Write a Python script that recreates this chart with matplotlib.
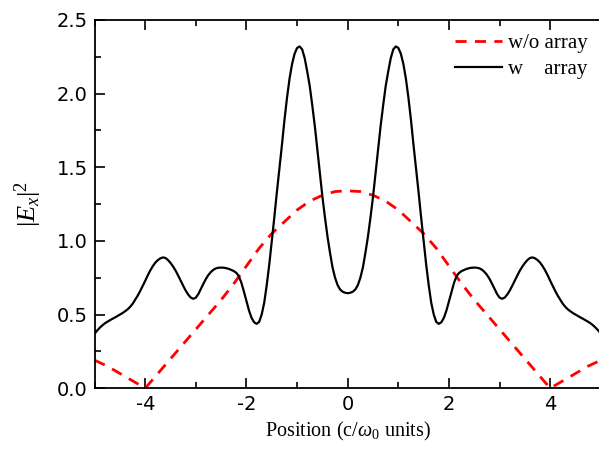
import numpy as np
import matplotlib
matplotlib.use("Agg")
from matplotlib import pyplot as plt

plt.rcParams['mathtext.fontset'] = 'custom'
plt.rcParams['mathtext.rm'] = 'Liberation Serif'
plt.rcParams['mathtext.it'] = 'Liberation Serif:italic'
plt.rcParams['axes.unicode_minus'] = False

# red dashed: without array (0.25 steps)
x_wo = [-5.0, -4.75, -4.5, -4.25, -4.0, -3.75, -3.5, -3.25, -3.0, -2.75, -2.5,
        -2.25, -2.0, -1.75, -1.5, -1.25, -1.0, -0.75, -0.5, -0.25, 0.0,
        0.25, 0.5, 0.75, 1.0, 1.25, 1.5, 1.75, 2.0, 2.25, 2.5,
        2.75, 3.0, 3.25, 3.5, 3.75, 4.0, 4.25, 4.5, 4.75, 5.0]
y_wo = [0.19, 0.15, 0.10, 0.05, 0.0, 0.10, 0.20, 0.30, 0.40, 0.50, 0.60,
        0.71, 0.83, 0.95, 1.05, 1.13, 1.21, 1.27, 1.31, 1.335, 1.34,
        1.335, 1.31, 1.27, 1.21, 1.13, 1.05, 0.95, 0.83, 0.71, 0.60,
        0.50, 0.40, 0.30, 0.20, 0.10, 0.0, 0.05, 0.10, 0.15, 0.19]

# black solid: with array (0.05 steps from -5 to 5)
x_w = np.round(np.linspace(-5.0, 5.0, 201), 2)
y_w = [
    # -5.00 .. -0.05
    0.370, 0.392, 0.410, 0.426, 0.440, 0.451, 0.461, 0.471, 0.480, 0.490,
    0.500, 0.510, 0.522, 0.535, 0.552, 0.573, 0.600, 0.628, 0.660, 0.695,
    0.730, 0.767, 0.800, 0.829, 0.853, 0.870, 0.882, 0.888, 0.884, 0.870,
    0.850, 0.826, 0.798, 0.765, 0.730, 0.695, 0.662, 0.635, 0.615, 0.607,
    0.615, 0.640, 0.675, 0.710, 0.743, 0.770, 0.790, 0.805, 0.814, 0.818,
    0.819, 0.818, 0.815, 0.810, 0.803, 0.795, 0.783, 0.760, 0.715, 0.655,
    0.590, 0.527, 0.478, 0.448, 0.437, 0.450, 0.500, 0.580, 0.700, 0.840,
    1.000, 1.160, 1.330, 1.490, 1.650, 1.820, 1.970, 2.100, 2.200, 2.270,
    2.310, 2.320, 2.300, 2.240, 2.150, 2.050, 1.920, 1.780, 1.620, 1.460,
    1.300, 1.160, 1.030, 0.920, 0.820, 0.750, 0.700, 0.670, 0.655, 0.648,
    # 0.00
    0.645,
    # 0.05 .. 5.00
    0.648, 0.655, 0.670, 0.700, 0.750, 0.820, 0.920, 1.030, 1.160, 1.300,
    1.460, 1.620, 1.780, 1.920, 2.050, 2.150, 2.240, 2.300, 2.320, 2.310,
    2.270, 2.200, 2.100, 1.970, 1.820, 1.650, 1.490, 1.330, 1.160, 1.000,
    0.840, 0.700, 0.580, 0.500, 0.450, 0.437, 0.448, 0.478, 0.527, 0.590,
    0.655, 0.715, 0.760, 0.783, 0.795, 0.803, 0.810, 0.815, 0.818, 0.819,
    0.818, 0.814, 0.805, 0.790, 0.770, 0.743, 0.710, 0.675, 0.640, 0.615,
    0.607, 0.615, 0.635, 0.662, 0.695, 0.730, 0.765, 0.798, 0.826, 0.850,
    0.870, 0.884, 0.888, 0.882, 0.870, 0.853, 0.829, 0.800, 0.767, 0.730,
    0.695, 0.660, 0.628, 0.600, 0.573, 0.552, 0.535, 0.522, 0.510, 0.500,
    0.490, 0.480, 0.471, 0.461, 0.451, 0.440, 0.426, 0.410, 0.392, 0.370,
]

fig = plt.figure(figsize=(5.99, 4.53), dpi=100)
ax = fig.add_axes([0.158, 0.143, 0.845, 0.813])

ax.plot(x_wo, y_wo, color='red', ls=(0, (4, 3)), lw=2, label='w/o array')
ax.plot(x_w, y_w, color='black', lw=1.6, label='w    array')

ax.set_xlim(-5, 5)
ax.set_ylim(0, 2.5)
ax.set_xticks([-4, -2, 0, 2, 4])
ax.set_xticks([-5, -3, -1, 1, 3, 5], minor=True)
ax.set_yticks(np.arange(0, 2.51, 0.5))
ax.set_yticks(np.arange(0.25, 2.5, 0.5), minor=True)
ax.yaxis.set_major_formatter(matplotlib.ticker.FormatStrFormatter('%.1f'))
ax.tick_params(which='both', direction='in', top=True, right=False, width=1.2,
               labelsize=14)
ax.tick_params(which='major', length=7, pad=5)
ax.tick_params(which='minor', length=4)
for s in ax.spines.values():
    s.set_linewidth(1.3)
ax.spines['right'].set_visible(False)

ax.set_xlabel(r'Position (c/$\omega_0$ units)', family='Liberation Serif', fontsize=14.5, labelpad=4)
ax.set_ylabel(r'$|E_x|^2$', fontsize=19, labelpad=9)

ax.legend(loc='upper right', frameon=False, prop={'family': 'Liberation Serif', 'size': 15},
          handlelength=2.3, handletextpad=0.25, labelspacing=0.3, borderaxespad=0.0,
          bbox_to_anchor=(0.99, 0.985))

fig.savefig('out.png', dpi=100)
